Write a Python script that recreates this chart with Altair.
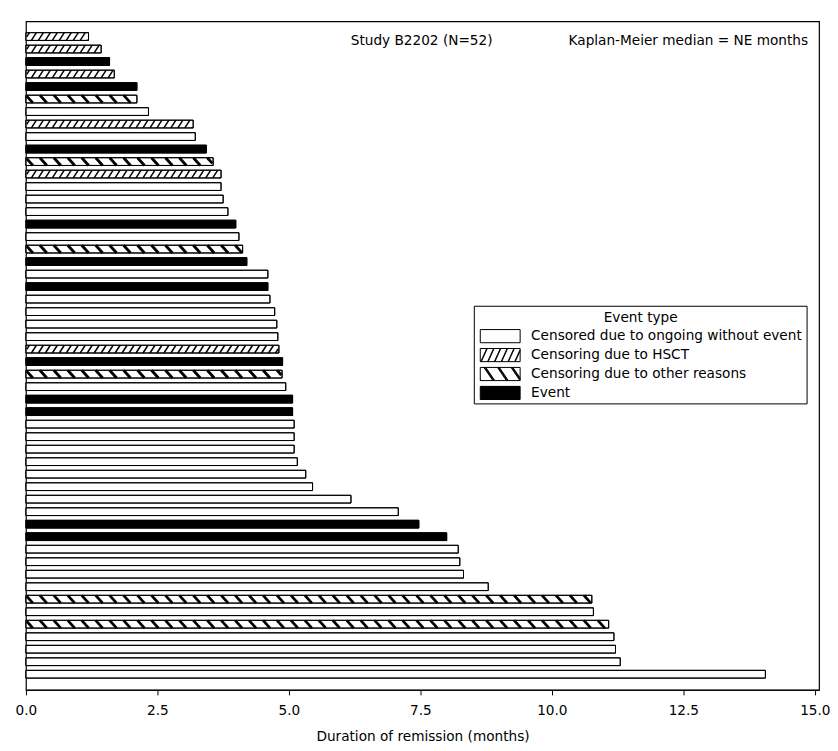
import altair as alt
import pandas as pd
import numpy as np

# ---- data (top bar first) ----
durations = [1.19, 1.43, 1.59, 1.68, 2.11, 2.11, 2.33, 3.18, 3.22, 3.43, 3.56, 3.71, 3.71,
             3.75, 3.84, 3.99, 4.05, 4.12, 4.20, 4.60, 4.60, 4.64, 4.73, 4.77, 4.79, 4.81,
             4.88, 4.87, 4.94, 5.07, 5.07, 5.10, 5.10, 5.10, 5.16, 5.32, 5.45, 6.18, 7.08,
             7.47, 8.00, 8.22, 8.25, 8.32, 8.79, 10.76, 10.79, 11.08, 11.18, 11.21, 11.30, 14.06]
codes = ["H", "H", "E", "H", "E", "O", "W", "H", "W", "E", "O", "H", "W",
         "W", "W", "E", "W", "O", "E", "W", "E", "W", "W", "W", "W", "H",
         "E", "O", "W", "E", "E", "W", "W", "W", "W", "W", "W", "W", "W",
         "E", "E", "W", "W", "W", "W", "O", "W", "O", "W", "W", "W", "W"]
legend_codes = ["W", "H", "O", "E"]
type_names = {
    "W": "Censored due to ongoing without event",
    "H": "Censoring due to HSCT",
    "O": "Censoring due to other reasons",
    "E": "Event",
}
type_order = [type_names[c] for c in legend_codes]
fill_colors = ["white", "white", "white", "black"]
x_ticks = [0, 2.5, 5, 7.5, 10, 12.5, 15]
legend_title = "Event type"
annot_left = "Study B2202 (N=52)"
annot_right = "Kaplan-Meier median = NE months"

FONT = "DejaVu Sans"
FS = 13.7
W, H = 796, 671
XMAX = 15.08
YMIN, YMAX = -1.22, 52.25
HALF = 0.31
PXU = W / XMAX

rows = list(range(len(durations)))
bars = pd.DataFrame({
    "row": rows,
    "y0": [r - HALF for r in rows],
    "y1": [r + HALF for r in rows],
    "zero": 0.0,
    "duration": durations,
    "type": [type_names[c] for c in codes],
})


# ---- hatching segments derived from each bar's value ----
def hatch(code, spacing, lean, direction):
    out = []
    for r, v, c in zip(rows, durations, codes):
        if c != code:
            continue
        wpx = v * PXU
        yb, yt = r + HALF, r - HALF
        s = -lean - spacing / 2
        while s < wpx + lean:
            if direction == "/":
                xb, xt = s, s + lean
            else:
                xb, xt = s + lean, s
            d = xt - xb
            ta = (0.8 - xb) / d
            tb = (wpx - 0.8 - xb) / d
            lo, hi = max(0.0, min(ta, tb)), min(1.0, max(ta, tb))
            if hi > lo:
                out.append({
                    "hx": (xb + lo * d) / PXU, "hx2": (xb + hi * d) / PXU,
                    "hy": yb + lo * (yt - yb), "hy2": yb + hi * (yt - yb),
                })
            s += spacing
    return pd.DataFrame(out)


hsct = hatch("H", 7.0, 5.0, "/")
other = hatch("O", 14.0, 7.0, "\\")


# ---- legend symbol paths (unit box, scaled by Vega: r = sqrt(size)/2) ----
def sym_path(kind):
    bx, by = 1.0, 0.33
    p = f"M-{bx},-{by}H{bx}V{by}H-{bx}Z"
    if kind in ("H", "O"):
        if kind == "H":
            spacing, lean, offs = 0.34, 0.3, [-0.015, 0.015]
        else:
            spacing, lean, offs = 0.68, 0.45, [-0.05, -0.017, 0.017, 0.05]
        s = -bx - lean
        while s < bx + lean:
            for off in offs:
                if kind == "H":
                    xb, xt = s + off, s + off + lean
                else:
                    xb, xt = s + off + lean, s + off
                d = xt - xb
                ta = (-bx - xb) / d
                tb = (bx - xb) / d
                lo, hi = max(0.0, min(ta, tb)), min(1.0, max(ta, tb))
                if hi > lo:
                    x1, y1 = xb + lo * d, by - lo * 2 * by
                    x2, y2 = xb + hi * d, by - hi * 2 * by
                    p += f"M{x1:.3f},{y1:.3f}L{x2:.3f},{y2:.3f}"
            s += spacing
    return p


xscale = alt.Scale(domain=[0, XMAX], nice=False, zero=False)
yscale = alt.Scale(domain=[YMIN, YMAX], reverse=True, nice=False, zero=False)

xaxis = alt.Axis(values=x_ticks, format=".1f", grid=False, tickSize=5,
                 labelPadding=9, titlePadding=12, labelFontSize=FS, titleFontSize=FS,
                 titleFontWeight="normal", labelColor="black", titleColor="black",
                 domainColor="black", tickColor="black", labelFlush=False,
                 title="Duration of remission (months)")

base_bars = alt.Chart(bars).mark_rect(stroke="black", strokeWidth=1).encode(
    x=alt.X("zero:Q", scale=xscale, axis=xaxis),
    x2="duration:Q",
    y=alt.Y("y0:Q", scale=yscale, axis=None),
    y2="y1:Q",
    color=alt.Color("type:N", scale=alt.Scale(domain=type_order, range=fill_colors), legend=None),
)

hsct_layer = alt.Chart(hsct).mark_rule(color="black", strokeWidth=1.5, strokeCap="butt").encode(
    x="hx:Q", x2="hx2:Q", y="hy:Q", y2="hy2:Q")
other_layer = alt.Chart(other).mark_rule(color="black", strokeWidth=2.8, strokeCap="butt").encode(
    x="hx:Q", x2="hx2:Q", y="hy:Q", y2="hy2:Q")

outline = alt.Chart(bars).mark_rect(stroke="black", strokeWidth=1, fillOpacity=0, fill="white").encode(
    x="zero:Q", x2="duration:Q", y="y0:Q", y2="y1:Q")

# ---- hand-drawn legend box (pixel positions inside the plot area) ----
one = pd.DataFrame({"k": [0]})
LX0, LX1, LY0, LY1 = 450, 784, 286, 384
legend_layers = [
    alt.Chart(one).mark_rect(fill="white", stroke="black", strokeWidth=1).encode(
        x=alt.value(LX0), x2=alt.value(LX1), y=alt.value(LY0), y2=alt.value(LY1)),
    alt.Chart(pd.DataFrame({"t": [legend_title]})).mark_text(
        align="center", baseline="middle", fontSize=FS, color="black").encode(
        x=alt.value((LX0 + LX1) / 2), y=alt.value(298), text="t:N"),
]
row_y = [316, 335, 354, 373]
for code, fillc, yy in zip(legend_codes, fill_colors, row_y):
    legend_layers.append(
        alt.Chart(one).mark_point(shape=sym_path(code), size=1600, filled=True, fill=fillc,
                                  stroke="black", strokeWidth=1, opacity=1).encode(
            x=alt.value(476), y=alt.value(yy)))
    legend_layers.append(
        alt.Chart(pd.DataFrame({"t": [type_names[code]]})).mark_text(
            align="left", baseline="middle", fontSize=FS, color="black").encode(
            x=alt.value(507), y=alt.value(yy), text="t:N"))

t1 = alt.Chart(pd.DataFrame({"t": [annot_left]})).mark_text(
    align="left", baseline="middle", fontSize=FS, color="black").encode(
    x=alt.value(326), y=alt.value(20), text="t:N")
t2 = alt.Chart(pd.DataFrame({"t": [annot_right]})).mark_text(
    align="right", baseline="middle", fontSize=FS, color="black").encode(
    x=alt.value(785), y=alt.value(20), text="t:N")

chart = alt.layer(base_bars, hsct_layer, other_layer, outline, *legend_layers, t1, t2).properties(
    width=W, height=H,
    autosize=alt.AutoSizeParams(type="none"),
    padding={"left": 18, "top": 12, "right": 11, "bottom": 52},
).configure(font=FONT).configure_view(stroke="black", strokeWidth=1.2)

chart.save("out.html", embed_options={"renderer": "svg", "actions": False})
